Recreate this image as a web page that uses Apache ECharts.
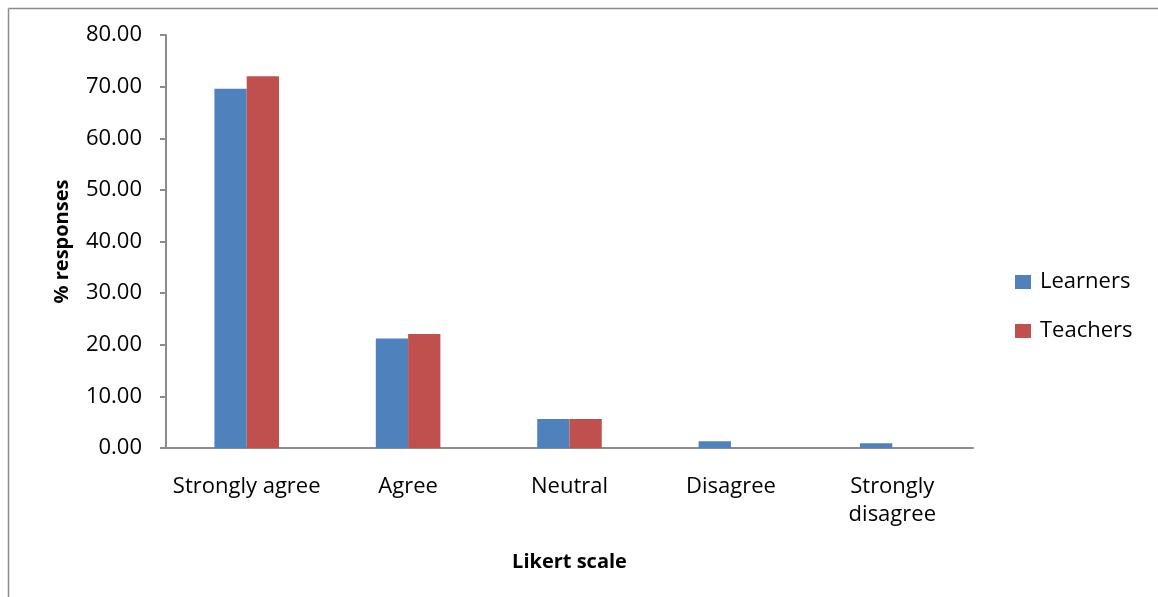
<!DOCTYPE html>
<html>
<head>
<meta charset="utf-8">
<title>Likert scale responses</title>
<script src="https://cdn.jsdelivr.net/npm/echarts@6/dist/echarts.min.js"></script>
<style>
  html, body { margin: 0; padding: 0; background: #fff; }
  #container { width: 1158px; height: 597px; }
</style>
</head>
<body>
<div id="container"></div>
<script type="text/javascript">
	// data
	var categories = ['Strongly agree', 'Agree', 'Neutral', 'Disagree', 'Strongly\ndisagree'];
	var learners = [69.6, 21.2, 5.6, 1.3, 0.9];
	var teachers = [72.0, 22.1, 5.6, 0, 0];
	var seriesNames = ['Learners', 'Teachers'];

	var myChart = echarts.init(document.getElementById('container'));
	var font = 'Open Sans';

	var option = {
		backgroundColor: '#fff',
		textStyle: { fontFamily: font },
		// frame of the picture (only left and top edges are visible)
		graphic: [
			{ type: 'line', shape: { x1: 8.5, y1: 8.5, x2: 1158, y2: 8.5 }, style: { stroke: '#8c8c8c', lineWidth: 1.5 } },
			{ type: 'line', shape: { x1: 8.5, y1: 8.5, x2: 8.5, y2: 597 }, style: { stroke: '#8c8c8c', lineWidth: 1.5 } }
		],
		legend: {
			orient: 'vertical',
			left: 1015,
			top: 271,
			padding: 0,
			itemWidth: 16,
			itemHeight: 14,
			itemGap: 27,
			icon: 'rect',
			textStyle: { fontSize: 22, color: '#000', fontFamily: font, padding: [0, 0, 0, 4] },
			data: seriesNames
		},
		grid: { left: 166, right: 185, top: 35, bottom: 149 },
		xAxis: {
			type: 'category',
			data: categories,
			name: 'Likert scale',
			nameLocation: 'middle',
			nameGap: 104,
			nameTextStyle: { fontSize: 20, fontWeight: 'bold', color: '#000' },
			axisLine: { lineStyle: { color: '#8c8c8c', width: 2 } },
			axisTick: { show: false },
			axisLabel: { fontSize: 22, color: '#000', margin: 25, lineHeight: 28, interval: 0 }
		},
		yAxis: {
			type: 'value',
			min: 0,
			max: 80,
			interval: 10,
			name: '% responses',
			nameLocation: 'middle',
			nameGap: 94,
			nameTextStyle: { fontSize: 20, fontWeight: 'bold', color: '#000' },
			axisLine: { show: true, lineStyle: { color: '#8c8c8c', width: 2 } },
			axisTick: { show: true, length: 6, lineStyle: { color: '#8c8c8c', width: 2 } },
			axisLabel: {
				fontSize: 22, color: '#000', margin: 24,
				formatter: function (v) { return v.toFixed(2); }
			},
			splitLine: { show: false }
		},
		series: [
			{
				name: seriesNames[0],
				type: 'bar',
				data: learners,
				barGap: '0%',
				barCategoryGap: '60%',
				itemStyle: { color: '#4F81BD' }
			},
			{
				name: seriesNames[1],
				type: 'bar',
				data: teachers,
				barGap: '0%',
				barCategoryGap: '60%',
				itemStyle: { color: '#C0504D' }
			}
		]
	};

	myChart.setOption(option);
</script>
</body>
</html>
